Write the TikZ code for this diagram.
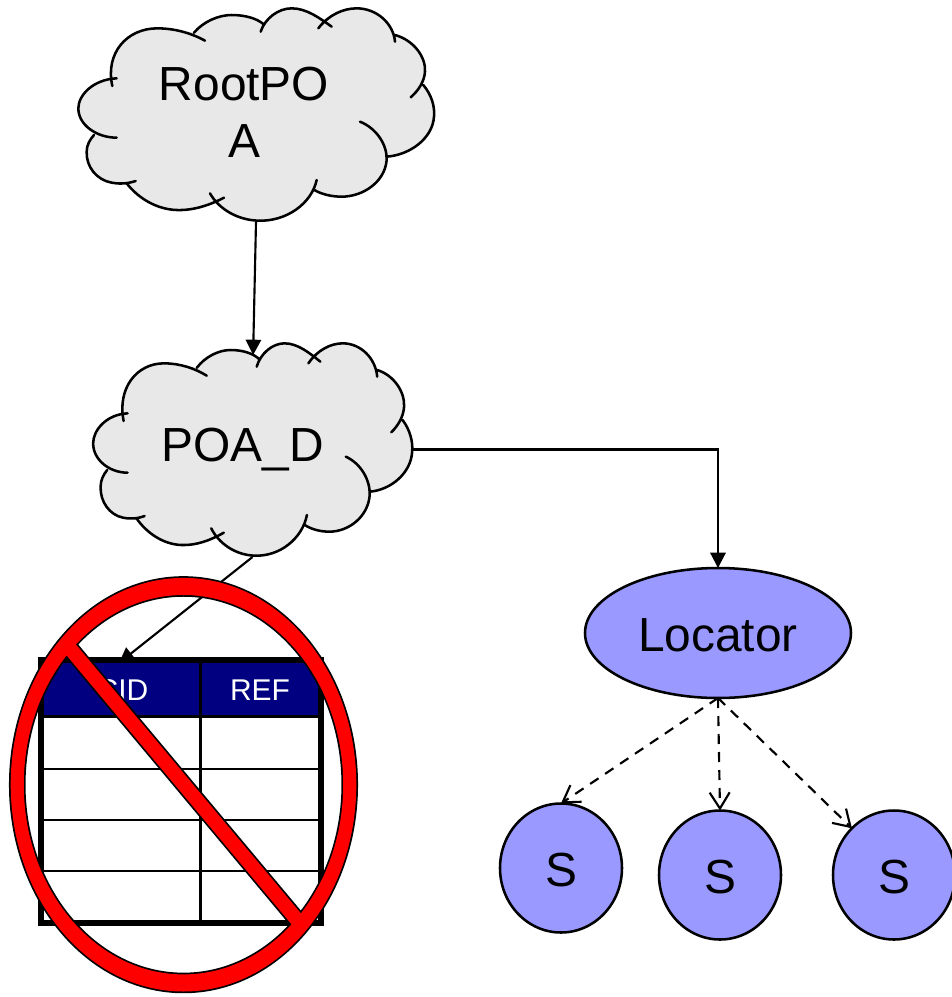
\documentclass[tikz,border=0pt]{standalone}
\usepackage{fontspec}
\setmainfont{Liberation Sans}
\usetikzlibrary{arrows.meta,shapes.geometric}

\definecolor{cloudgray}{HTML}{E8E8E8}
\definecolor{nodeblue}{HTML}{9999FF}
\definecolor{headnavy}{HTML}{000080}

% lobes of the cloud, clockwise
\newcommand{\lobeA}{(127,258)..controls(105,160)and(170,85)..(262,85)..controls(315,85)and(365,100)..(405,122)}
\newcommand{\lobeB}{(372,98)..controls(400,65)and(445,45)..(485,45)..controls(525,45)and(560,55)..(580,72)}
\newcommand{\lobeC}{(572,95)..controls(585,55)and(625,25)..(665,25)..controls(710,25)and(750,55)..(785,80)}
\newcommand{\lobeD}{(745,85)..controls(775,45)and(820,25)..(860,25)..controls(920,25)and(970,70)..(975,125)}
\newcommand{\lobeE}{(975,105)..controls(1030,120)and(1068,170)..(1065,215)..controls(1063,245)and(1045,272)..(1022,292)}
\newcommand{\lobeF}{(1060,255)..controls(1085,285)and(1095,320)..(1092,350)..controls(1088,415)and(1020,465)..(950,470)}
\newcommand{\lobeG}{(870,365)..controls(920,385)and(952,435)..(950,480)..controls(945,545)and(880,590)..(815,590)..controls(785,590)and(755,583)..(733,570)}
\newcommand{\lobeH}{(740,540)..controls(725,610)and(650,665)..(565,662)..controls(500,660)and(445,625)..(420,580)}
\newcommand{\lobeI}{(462,593)..controls(420,615)and(370,632)..(320,630)..controls(260,628)and(205,595)..(170,550)}
\newcommand{\lobeJ}{(197,543)..controls(170,552)and(145,552)..(125,548)..controls(80,540)and(48,500)..(50,455)..controls(50,435)and(60,418)..(72,405)}
\newcommand{\lobeK}{(140,413)..controls(80,413)and(25,375)..(25,325)..controls(25,285)and(70,238)..(140,235)}

\tikzset{
	bigtext/.style={font=\fontsize{35.9}{43}\selectfont},
	headtext/.style={font=\fontsize{22.5}{26}\selectfont,text=white,anchor=base},
	bluenode/.style={draw,line width=1.9pt,fill=nodeblue,ellipse,inner sep=0pt,outer sep=0pt,bigtext,text height=27pt,text depth=0pt},
	locatorbox/.style={bluenode,minimum width=199.5pt,minimum height=97.5pt},
	serverbox/.style={bluenode,minimum width=91.5pt,minimum height=96.75pt},
	solidarrow/.style={line width=1.6pt,-{Triangle[length=11.5pt,width=11.5pt]}},
	dasharrow/.style={line width=1.6pt,dash pattern=on 7.5pt off 6pt,-{Straight Barb[length=12pt,width=15pt]}},
	signline/.style={draw=black,line width=2.6pt},
	cloudpic/.pic={
		\node(-box)[transform shape,minimum width=268.5pt,minimum height=161.25pt,inner sep=0pt,outer sep=0pt]{};
		\begin{scope}[scale=1/3,shift={(-558,-343.5)}]
			\coordinate(-notch)at(560,60);
			\fill[cloudgray]\lobeA\lobeB\lobeC\lobeD\lobeE\lobeF\lobeG\lobeH\lobeI\lobeJ\lobeK
				(375,97)--(485,50)--(577,75)--(665,30)--(750,68)--(860,30)--(975,110)--(1060,215)--(1058,255)--(1088,350)--(950,470)--(815,585)--(735,570)--(565,655)--(425,585)--(320,625)--(170,550)--(125,545)--(72,405)--(30,325)--(125,238)--(262,90)--cycle;
			\draw[line width=1.9pt,line cap=round]\lobeA\lobeB\lobeC\lobeD\lobeE\lobeF\lobeG\lobeH\lobeI\lobeJ\lobeK;
		\end{scope}
	}
}

\begin{document}
\begin{tikzpicture}[x=0.75pt,y=-0.75pt]
	\useasboundingbox(0,0)rectangle(951,997);

	\pic(RootPOA)at(256,114.5){cloudpic};
	\pic[xscale=0.897](POAD)at(252.5,449.5){cloudpic};
	\node(RootLabel)[bigtext,align=center,inner sep=0pt]at(244,112){RootPO\\A};
	\node(POALabel)[bigtext,anchor=base,inner sep=0pt]at(242.5,461.7){POA\_D};

	\node(Locator)[locatorbox]at(718,633){Locator};
	\node(ServerA)[serverbox]at(561,868){S};
	\node(ServerB)[serverbox]at(720,875){S};
	\node(ServerC)[serverbox]at(894,875){S};

	\coordinate(TableIn)at(119,663);

	\draw[solidarrow](RootPOA-box.south)--(POAD-notch);
	\draw[solidarrow](POAD-box.east)-|(Locator.north);
	\draw[solidarrow](POAD-box.south)--(TableIn);

	\draw[dasharrow](Locator.south)--(ServerA.north);
	\draw[dasharrow](Locator.south)--(ServerB.north);
	\draw[dasharrow](Locator.south)--(ServerC.132);

	% table
	\fill[headnavy](41,660)rectangle(321,716);
	\foreach \y in {769,820,871}
		\draw[line width=1.9pt](41,\y)--(321,\y);
	\draw[line width=2.6pt](41,716.5)--(321,716.5);
	\draw[line width=1.9pt](200.7,660)--(200.7,923);
	\node(RefTable)[draw,line width=4.3pt,inner sep=0pt,outer sep=0pt,minimum width=210pt,minimum height=197.5pt]at(181.2,791.5){};
	\node(CidHead)[headtext]at(122.5,700){CID};
	\node(RefHead)[headtext]at(260,700){REF};

	% prohibition sign
	\coordinate(SignCenter)at(183.5,784.7);
	\draw[signline](SignCenter)ellipse[x radius=172.8,y radius=206.8];
	\draw[signline](SignCenter)ellipse[x radius=159.7,y radius=189.7];
	\draw[signline](75,643.3)--(301.7,914.3)--(292.7,925.7)--(66,654.7)--cycle;
	\fill[red,even odd rule](SignCenter)ellipse[x radius=172.8,y radius=206.8](SignCenter)ellipse[x radius=159.7,y radius=189.7];
	\fill[red](75,643.3)--(301.7,914.3)--(292.7,925.7)--(66,654.7)--cycle;
\end{tikzpicture}
\end{document}
